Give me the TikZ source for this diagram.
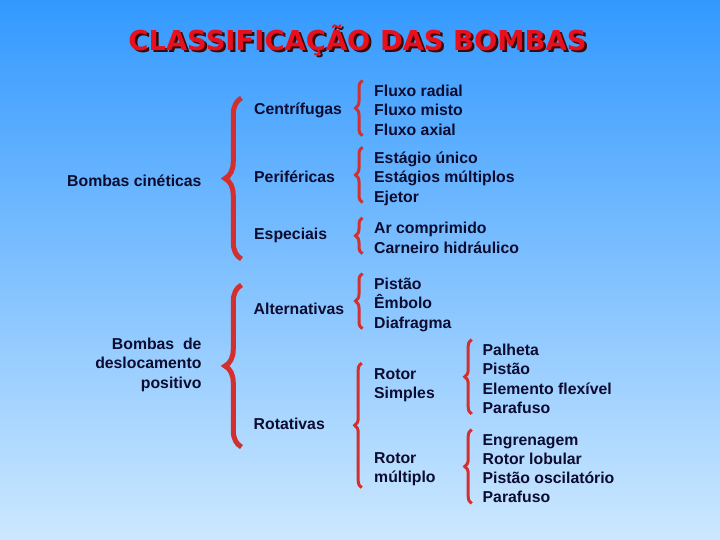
\documentclass[tikz,border=0pt]{standalone}
\usepackage{fontspec}
\setmainfont{Liberation Sans}
\newfontfamily\titlefont{DejaVu Sans}
\usetikzlibrary{decorations.pathreplacing,positioning}
\definecolor{skytop}{HTML}{3399FF}
\definecolor{skybottom}{HTML}{CCE8FF}
\definecolor{bracered}{HTML}{D32F2F}
\definecolor{titlered}{HTML}{E8101C}
\definecolor{shadowdark}{HTML}{3A0808}
\definecolor{inkblue}{HTML}{0C0C30}

\begin{document}
\begin{tikzpicture}[x=1pt,y=-1pt,
  item/.style={inner sep=0pt,text=inkblue,font=\bfseries\fontsize{15.8}{19.3}\selectfont,anchor=base west},
  itemlist/.style={item,align=left,anchor=north west,execute at begin node=\strut,execute at end node=\strut},
  heading/.style={inner sep=0pt,anchor=base,font=\titlefont\bfseries\fontsize{27.4}{30}\selectfont},
  bigbrace/.style={draw=bracered,line width=5pt,decorate,decoration={brace,amplitude=16.5pt}},
  smallbrace/.style={draw=bracered,line width=3pt,decorate,decoration={brace,amplitude=7pt}}
]
\useasboundingbox (0,0) rectangle (720,540);
\shade[top color=skytop,bottom color=skybottom] (0,0) rectangle (720,540);

% title with shadow
\node[heading,text=shadowdark] (titleshadow) at (360,52.8) {CLASSIFICAÇÃO DAS BOMBAS};
\node[heading,text=titlered] (title) at (357.5,50.3) {CLASSIFICAÇÃO DAS BOMBAS};

% bombas cineticas
\node[item] (cinet) at (67,187) {Bombas cinéticas};
\node[item] (centri) at (254,115) {Centrífugas};
\node[item] (perif) at (254,182.7) {Periféricas};
\node[item] (espec) at (254,239.3) {Especiais};
\node[itemlist] (fluxo) at (374,85) {Fluxo radial\\Fluxo misto\\Fluxo axial};
\node[itemlist] (estagio) at (374,151.7) {Estágio único\\Estágios múltiplos\\Ejetor};
\node[itemlist] (ar) at (374,222.3) {Ar comprimido\\Carneiro hidráulico};

% bombas de deslocamento positivo
\node[itemlist,align=right,anchor=north east] (desloc) at (201.7,337.8) {Bombas\ \ de\\deslocamento\\positivo};
\node[item] (altern) at (253.5,314.3) {Alternativas};
\node[item] (rotat) at (253.5,429.3) {Rotativas};
\node[itemlist] (pistao) at (374,278) {Pistão\\Êmbolo\\Diafragma};
\node[itemlist] (rsimples) at (374,368.3) {Rotor\\Simples};
\node[itemlist] (rmultiplo) at (374,452.3) {Rotor\\múltiplo};
\node[itemlist] (palheta) at (482.5,344) {Palheta\\Pistão\\Elemento flexível\\Parafuso};
\node[itemlist] (engren) at (482.5,434) {Engrenagem\\Rotor lobular\\Pistão oscilatório\\Parafuso};

% braces
\coordinate (cinbot) at (241.5,259);
\coordinate (cintop) at (241.5,98);
\coordinate (desbot) at (241.5,447);
\coordinate (destop) at (241.5,285);
\draw[bigbrace] (cinbot) -- (cintop);
\draw[bigbrace] (desbot) -- (destop);
\foreach \grp in {fluxo,estagio,ar,pistao}
  \draw[smallbrace] ([xshift=-11.5pt,yshift=5.5pt]\grp.south west) -- ([xshift=-11.5pt,yshift=4.5pt]\grp.north west);
\foreach \grp in {palheta,engren}
  \draw[smallbrace] ([xshift=-10.8pt,yshift=5.5pt]\grp.south west) -- ([xshift=-10.8pt,yshift=4.5pt]\grp.north west);
\draw[smallbrace] ([xshift=-12.3pt,yshift=1pt]rmultiplo.south west) -- ([xshift=-12.3pt,yshift=5.3pt]rsimples.north west);
\end{tikzpicture}
\end{document}
